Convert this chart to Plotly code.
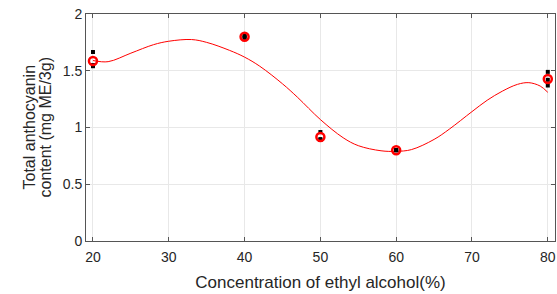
import plotly.graph_objects as go

# ---- data ----
conc = [20, 40, 50, 60, 80]
mean_vals = [1.586, 1.80, 0.916, 0.80, 1.427]
rep_x = [20, 20, 20, 40, 40, 40, 50, 50, 50, 60, 60, 60, 80, 80, 80]
rep_y = [1.665, 1.55, 1.54, 1.79, 1.80, 1.81, 0.96, 0.898, 0.89, 0.80, 0.80, 0.80, 1.49, 1.42, 1.37]
fit_x = [20, 22, 25, 28, 30, 33, 35, 38, 40, 42, 45, 47, 50, 53, 55, 58, 60, 62, 65, 67, 70, 72, 74, 76,
         77.5, 79, 80]
fit_y = [1.59, 1.58, 1.655, 1.73, 1.76, 1.775, 1.75, 1.68, 1.62, 1.54, 1.385, 1.265, 1.07, 0.91, 0.84, 0.795,
         0.79, 0.805, 0.895, 0.985, 1.14, 1.24, 1.32, 1.38, 1.395, 1.365, 1.31]
x_ticks = [20, 30, 40, 50, 60, 70, 80]
y_ticks = [0, 0.5, 1, 1.5, 2]
y_tick_text = ["0", "0.5", "1", "1.5", "2"]
y_title_lines = ["Total anthocyanin", "content (mg ME/3g)"]

FONT = "Liberation Sans, Arial, sans-serif"
TXT = "#262626"
AX = "#555555"
GRID = "#e8e8e8"

L, R, T, B = 86, 2, 14, 53
W, H = 557, 294
plot_w = W - L - R

fig = go.Figure()
fig.add_trace(go.Scatter(x=fit_x, y=fit_y, mode="lines",
                         line=dict(color="#ff0000", width=1, shape="spline", smoothing=1.0),
                         hoverinfo="skip", showlegend=False))
fig.add_trace(go.Scatter(x=rep_x, y=rep_y, mode="markers",
                         marker=dict(symbol="square", size=4, color="black"),
                         showlegend=False))
fig.add_trace(go.Scatter(x=conc, y=mean_vals, mode="markers",
                         marker=dict(symbol="circle-open", size=8, color="#ff0000",
                                     line=dict(width=2.5, color="#ff0000")),
                         showlegend=False))

annos = []
for px, txt in zip([29, 45], y_title_lines):
    annos.append(dict(text=txt, textangle=-90, xref="paper", yref="paper",
                      x=(px - L) / plot_w, y=0.5, xanchor="center", yanchor="middle",
                      showarrow=False, font=dict(size=16, color=TXT)))

fig.update_layout(
    width=W, height=H,
    margin=dict(l=L, r=R, t=T, b=B),
    paper_bgcolor="white", plot_bgcolor="white",
    font=dict(family=FONT, color=TXT, size=14),
    xaxis=dict(range=[19.08, 80.95], tickvals=x_ticks, ticks="inside", ticklen=4,
               tickcolor=AX, showline=True, linecolor=AX, linewidth=1, mirror="ticks",
               showgrid=True, gridcolor=GRID, gridwidth=1, zeroline=False,
               tickfont=dict(size=14, color=TXT), ticklabelstandoff=3,
               title=dict(text="Concentration of ethyl alcohol(%)", font=dict(size=17, color=TXT),
                          standoff=12)),
    yaxis=dict(range=[0, 2], tickvals=y_ticks, ticktext=y_tick_text, ticks="inside", ticklen=4,
               tickcolor=AX, showline=True, linecolor=AX, linewidth=1, mirror="ticks",
               showgrid=True, gridcolor=GRID, gridwidth=1, zeroline=False,
               tickfont=dict(size=14, color=TXT)),
    annotations=annos,
)

fig.write_html("out.html", config={"displayModeBar": False},
               post_script="document.body.style.margin='0';document.body.style.overflow='hidden';")
